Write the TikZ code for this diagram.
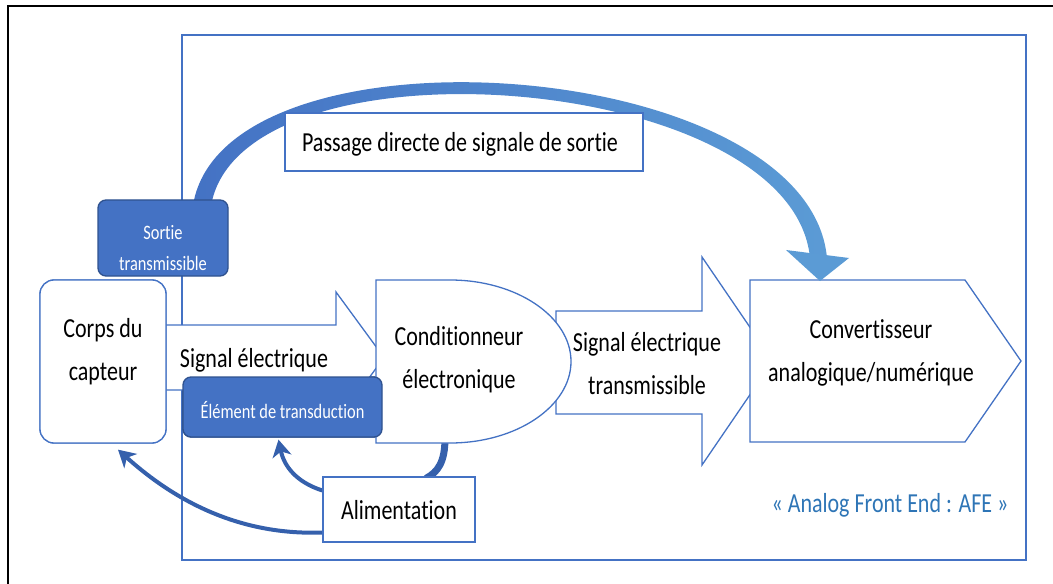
\documentclass[tikz,border=0pt]{standalone}
\usepackage{fontspec}
\setmainfont[FakeStretch=0.8,Ligatures=NoCommon]{Carlito}
\usetikzlibrary{arrows.meta,calc}
\definecolor{bl}{HTML}{4472C4}
\definecolor{dbl}{HTML}{2F528F}
\definecolor{sarc}{HTML}{3560AC}
\definecolor{afe}{HTML}{2E75B6}
\definecolor{lbl}{HTML}{5B9BD5}
\begin{document}
\begin{tikzpicture}[x=1bp,y=-1bp,
  shp/.style={draw=bl,line width=1.3bp,fill=white},
  box/.style={shp,inner sep=0pt},
  dark/.style={draw=dbl,line width=1.3bp,fill=bl,rounded corners=8bp,inner sep=0pt},
  small/.style={text=white,font=\fontsize{20.5bp}{31bp}\selectfont,align=center,inner sep=0pt},
  big/.style={font=\fontsize{27.5bp}{43bp}\selectfont,align=center,inner sep=0pt},
  sarr/.style={draw=sarc,line width=4bp,-{Stealth[length=17bp,width=19bp,inset=5bp]}},
  thick arc/.style={draw=sarc,line width=7bp}]
\useasboundingbox (0,0) rectangle (1053,584);
% outer frame
\draw[black,line width=1.2bp] (8,584) -- (8,6) -- (1053,6);
% AFE frame
\draw[bl,line width=1.5bp] (182,35) rectangle (1026,560);
% nodes (boxes)
\node[box,minimum width=152bp,minimum height=65bp] (alim) at (399,509.5) {};
\node[box,rounded corners=14bp,minimum width=126bp,minimum height=163bp] (corps) at (103,361.5) {};
\node[dark,minimum width=199bp,minimum height=60bp] (transd) at (282.5,407) {};
% power connectors
\draw[thick arc] (445,438) .. controls (445,462) and (438,472) .. ($(alim.north)+(27,2)$);
\draw[sarr] ($(alim.west)+(0,23)$) .. controls (230,536) and (165,492) .. ($(corps.south)+(15,6)$);
\draw[sarr] ($(alim.west)+(0,-19)$) .. controls (296,482) and (284,466) .. ($(transd.south)+(-4,2)$);
% redraw alim on top
\node[box,minimum width=152bp,minimum height=65bp] (alim2) at (alim) {};
\node[big] (alimt) at (399,510) {Alimentation};
% block arrows
\draw[shp] (166,325) -- (336,325) -- (336,292) -- (384,357.5) -- (336,423) -- (336,390) -- (166,390) -- cycle;
\draw[shp] (556,311) -- (702,311) -- (702,257) -- (773,361) -- (702,465) -- (702,414) -- (556,414) -- cycle;
% conditionneur
\draw[shp] (376,280) -- (450,280) .. controls (517,280) and (571,317) .. (571,361.5)
  .. controls (571,406) and (517,443) .. (450,443) -- (376,443) -- cycle;
% convertisseur
\draw[shp] (750,280) -- (965,280) -- (1021,361) -- (965,442) -- (750,442) -- cycle;
% corps on top
\node[box,rounded corners=14bp,minimum width=126bp,minimum height=163bp] (corps2) at (corps) {};
\node[big] (corpst) at (103,352) {Corps du\\capteur};
% big curved arrow
\shade[left color=bl,right color=lbl] (192,214) .. controls (206,14) and (808,52) .. (827,258)
  -- (810,258) .. controls (792,68) and (224,30) .. (210,214) -- cycle;
\fill[lbl] (786,250) -- (849,258) -- (820,281) -- cycle;
% dark boxes
\node[dark,minimum width=130bp,minimum height=76bp] (sortie) at (163,238) {};
\node[small] (sortiet) at (163,248) {Sortie\\transmissible};
\node[dark,minimum width=199bp,minimum height=60bp] (transd2) at (282.5,407) {};
\node[small] (transdt) at (282.5,410) {Élément de transduction};
\node[box,minimum width=358bp,minimum height=58bp] (pass) at (464,142) {};
\node[big] (passt) at (460,144) {Passage directe de signale de sortie};
% texts
\node[big] (sig1t) at (254,360) {Signal électrique};
\node[big] (condt) at (459,360) {Conditionneur\\électronique};
\node[big] (sig2t) at (647,364) {Signal électrique\\transmissible};
\node[big] (convt) at (871,353) {Convertisseur\\analogique/numérique};
\node[big,text=afe] (afet) at (890,505) {« Analog Front End : AFE »};
\end{tikzpicture}
\end{document}
